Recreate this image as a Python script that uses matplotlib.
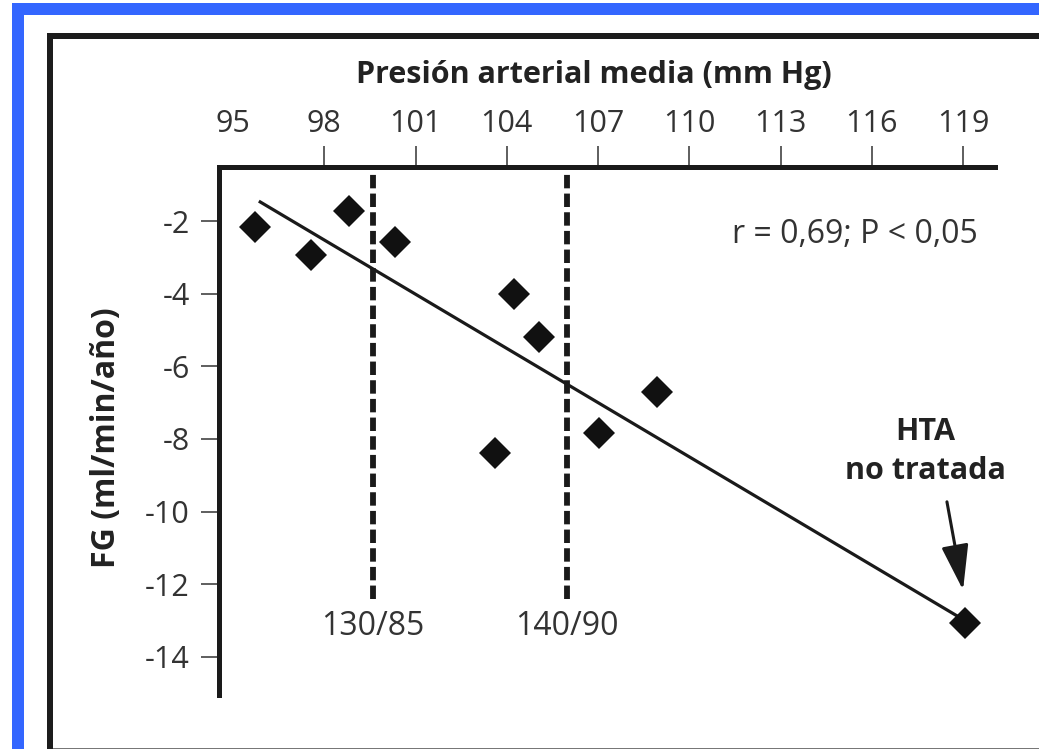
import matplotlib
matplotlib.use("Agg")
import matplotlib.pyplot as plt
from matplotlib.patches import Rectangle

plt.rcParams['font.family'] = ['Open Sans', 'DejaVu Sans']
plt.rcParams['axes.unicode_minus'] = False

# values
pam = [95.72, 97.56, 98.81, 100.33, 103.61, 104.25, 105.07, 107.03, 108.94, 119.06]
fg = [-2.16, -2.94, -1.72, -2.58, -8.38, -4.01, -5.20, -7.83, -6.71, -13.07]

fit_x = [95.85, 119.0]
fit_y = [-1.45, -12.97]

ref_x = [99.6, 105.97]
ref_labels = ['130/85', '140/90']
ref_bottom = -12.4

x_ticks = [95, 98, 101, 104, 107, 110, 113, 116, 119]
y_ticks = [-2, -4, -6, -8, -10, -12, -14]

W, H = 1039, 749
fig = plt.figure(figsize=(W / 100, H / 100), dpi=100)

# blue page border and black frame
blue = '#3366ff'
fig.add_artist(Rectangle((12 / W, 0), 12 / W, 1 - 3 / H, transform=fig.transFigure,
                         color=blue, lw=0))
fig.add_artist(Rectangle((12 / W, 1 - 15 / H), 1, 12 / H, transform=fig.transFigure,
                         color=blue, lw=0))
fig.add_artist(Rectangle((47 / W, 0), 6 / W, 1 - 33 / H, transform=fig.transFigure,
                         color='#1c1c1c', lw=0))
fig.add_artist(Rectangle((47 / W, 1 - 39 / H), 1, 6 / H, transform=fig.transFigure,
                         color='#1c1c1c', lw=0))
fig.add_artist(Rectangle((53 / W, 0), 1, 1.5 / H, transform=fig.transFigure,
                         color='#777777', lw=0))

ax = fig.add_axes([219 / W, 54 / H, 776 / W, 528 / H])
ax.set_xlim(94.54, 120.05)
ax.set_ylim(-15.05, -0.51)

ax.vlines(ref_x, ref_bottom, -0.51, colors='#1a1a1a', lw=4.2,
          linestyles=[(0, (2.3, 0.9))])
ax.plot(fit_x, fit_y, color='#1a1a1a', lw=2.3, solid_capstyle='butt')
ax.plot(pam, fg, 'D', color='#111111', ms=16, mew=0)

for x, lab in zip(ref_x, ref_labels):
    ax.text(x, -13.40, lab, ha='center', va='baseline', fontsize=23, color='#333333')

ax.text(119.48, -2.61, 'r = 0,69; P < 0,05', ha='right', va='baseline',
        fontsize=23, color='#333333')

ax.text(117.75, -8.03, 'HTA', ha='center', va='baseline', fontsize=22,
        fontweight='bold', color='#222222')
ax.text(117.75, -9.10, 'no tratada', ha='center', va='baseline', fontsize=22,
        fontweight='bold', color='#222222')
ax.annotate('', xy=(119.0, -12.16), xytext=(118.47, -9.73),
            arrowprops=dict(arrowstyle='-|>,head_length=1.4,head_width=0.42',
                            lw=2.2, color='#1a1a1a', mutation_scale=20,
                            shrinkA=0, shrinkB=0))

# axes: only top and left spines
for s in ['right', 'bottom']:
    ax.spines[s].set_visible(False)
for s in ['top', 'left']:
    ax.spines[s].set_linewidth(3.6)
    ax.spines[s].set_color('#1a1a1a')
    ax.spines[s].set_capstyle('projecting')

ax.xaxis.tick_top()
ax.xaxis.set_label_position('top')
ax.set_xticks(x_ticks)
ax.set_yticks(y_ticks)
ax.tick_params(axis='x', length=15, width=1.1, pad=5, labelsize=22,
               colors='#333333')
ax.tick_params(axis='y', length=13, width=1.1, pad=8, labelsize=22,
               colors='#333333')
ax.xaxis.get_major_ticks()[0].tick2line.set_visible(False)

ax.set_xlabel('Presión arterial media (mm Hg)', fontsize=22, fontweight='bold',
              color='#222222')
ax.set_ylabel('FG (ml/min/año)', fontsize=23, fontweight='bold',
              color='#222222')
ax.xaxis.set_label_coords(0.4826, 1.160)
ax.yaxis.set_label_coords(-0.1237, 0.4877)

fig.savefig('out.png', dpi=100)
